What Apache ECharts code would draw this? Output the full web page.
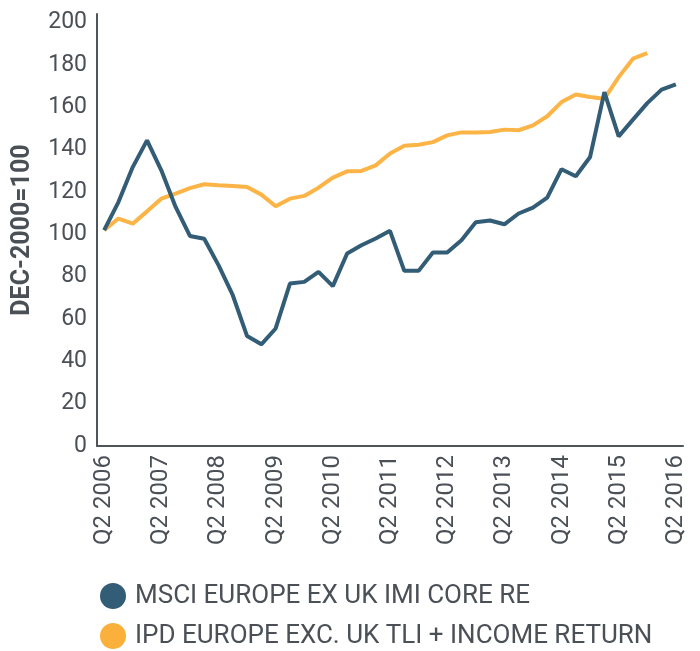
<!DOCTYPE html>
<html>
<head>
<meta charset="utf-8">
<script src="https://cdn.jsdelivr.net/npm/echarts@6/dist/echarts.min.js"></script>
<style>
html,body{margin:0;padding:0;background:#fff;}
#chart{width:700px;height:651px;}
</style>
</head>
<body>
<div id="chart"></div>
<script>
var quarters = ["Q2 2006","Q3 2006","Q4 2006","Q1 2007","Q2 2007","Q3 2007","Q4 2007","Q1 2008","Q2 2008","Q3 2008","Q4 2008","Q1 2009","Q2 2009","Q3 2009","Q4 2009","Q1 2010","Q2 2010","Q3 2010","Q4 2010","Q1 2011","Q2 2011","Q3 2011","Q4 2011","Q1 2012","Q2 2012","Q3 2012","Q4 2012","Q1 2013","Q2 2013","Q3 2013","Q4 2013","Q1 2014","Q2 2014","Q3 2014","Q4 2014","Q1 2015","Q2 2015","Q3 2015","Q4 2015","Q1 2016","Q2 2016"];
var msciName = "MSCI EUROPE EX UK IMI CORE RE";
var ipdName = "IPD EUROPE EXC. UK TLI + INCOME RETURN";
var msci = [101.9,115.2,131.7,144.3,130.2,112.9,99.2,97.9,85.4,71.2,51.9,48.0,55.5,76.7,77.5,82.2,75.5,90.9,94.8,98.0,101.6,82.7,82.7,91.4,91.4,97.2,105.7,106.5,104.7,109.8,112.6,117.3,130.7,127.4,136.5,167.1,146.2,154.1,161.9,168.3,170.8];
var ipd = [101.9,107.4,105.0,110.8,116.8,119.2,121.8,123.6,123.1,122.8,122.3,118.7,113.2,116.8,118.1,122.0,126.7,129.7,129.9,132.5,138.1,141.8,142.3,143.5,146.7,148.1,148.0,148.3,149.4,149.1,151.4,155.7,162.4,166.0,164.8,164.0,174.2,182.9,185.5];
var yTicks = [0,20,40,60,80,100,120,140,160,180,200];
var yAxisName = "DEC-2000=100";

var textColor = "#4b5057";
var fontFam = "Roboto, 'DejaVu Sans', sans-serif";
var chart = echarts.init(document.getElementById('chart'), null, {renderer:'canvas'});
chart.setOption({
  animation:false,
  backgroundColor:'#fff',
  grid:{left:97, right:17, top:14, bottom:205, containLabel:false},
  legend:{
    orient:'vertical', left:100, top:583, padding:0,
    icon:'circle', itemWidth:26, itemHeight:26, itemGap:14,
    textStyle:{color:textColor, fontSize:26, fontFamily:fontFam, padding:[0,0,0,4]},
    data:[msciName, ipdName]
  },
  xAxis:{
    type:'category', data:quarters, boundaryGap:true,
    axisLine:{show:true, lineStyle:{color:'#50555c', width:2}},
    axisTick:{show:false},
    axisLabel:{
      interval:3, rotate:90, margin:9, color:textColor, fontSize:24, fontFamily:fontFam
    },
    splitLine:{show:false}
  },
  yAxis:{
    type:'value', min:0, max:204, interval:20,
    name:yAxisName, nameLocation:'middle', nameGap:62, nameRotate:90,
    nameTextStyle:{color:textColor, fontSize:25, fontWeight:'bold', fontFamily:fontFam},
    axisLine:{show:true, lineStyle:{color:'#50555c', width:2}},
    axisTick:{show:false},
    axisLabel:{
      margin:10, color:textColor, fontSize:23, fontFamily:fontFam, showMaxLabel:false,
      formatter:function(v){ return yTicks.indexOf(v) >= 0 ? String(v) : ''; }
    },
    splitLine:{show:false}
  },
  series:[
    {name:msciName, type:'line', data:msci, symbol:'none', smooth:false,
     lineStyle:{color:'#335d76', width:4}, itemStyle:{color:'#335d76'}, z:3},
    {name:ipdName, type:'line', data:ipd, symbol:'none', smooth:false,
     lineStyle:{color:'#fbb03b', width:4, opacity:0.95}, itemStyle:{color:'#fbb03b'}, z:2}
  ]
});
</script>
</body>
</html>
